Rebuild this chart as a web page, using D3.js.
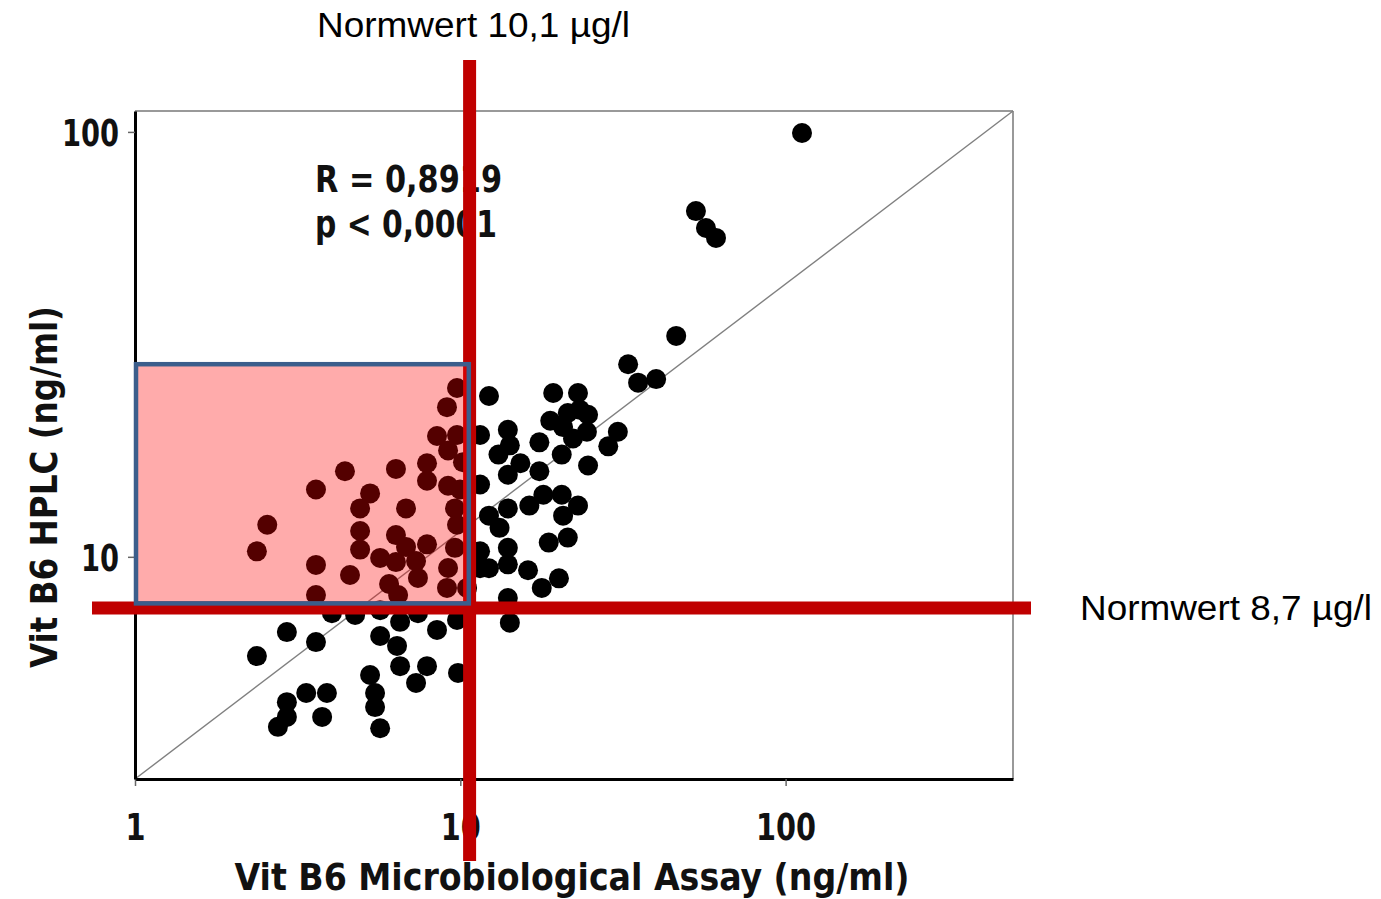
<!DOCTYPE html>
<html><head><meta charset="utf-8">
<script src="https://cdn.jsdelivr.net/npm/d3@7"></script>
<style>body{margin:0;background:#fff}</style>
</head><body>
<svg id="c" width="1381" height="899"></svg>
<script>
// ---- data ----
const xTicks = [1, 10, 100];
const yTicks = [10, 100];
const xDomain = [1, 500];
const yDomain = [3, 112];
const microAssay = [112.3,53.0,56.9,61.1,46.1,32.8,35.2,40.0,30.5,28.5,24.7,
  12.25,19.3,23.0,18.9,21.4,23.3,24.7,24.5,22.2,20.7,20.5,17.5,14.0,14.2,13.1,15.3,14.0,17.5,11.5,11.5,
  12.25,13.2,14.0,16.3,18.0,20.5,20.7,23.0,18.7,21.4,14.0,11.5,12.25,14.0,16.15,17.8,20.1,14.0,14.2,11.5,
  9.77,9.10,8.48,9.77,9.17,10.19,7.90,7.90,9.17,9.98,6.34,4.42,3.60,5.28,4.92,6.81,9.63,9.77,4.92,4.92,
  6.34,6.81,7.90,5.67,6.34,7.31,9.63,9.17,9.10,2.55,2.37,3.60,4.58,6.04,7.41,6.44,3.60,10.49,
  4.03,4.75,5.67,6.53,7.41,8.48,9.77,2.93,3.60,5.67,6.39,2.37,6.53,7.90,7.31,9.84,5.28,5.47,5.47,5.67,
  3.36,3.89,2.93,2.93,2.75,3.76];
const hplc = [99.4,65.1,59.4,56.3,33.1,28.4,25.7,26.2,19.7,18.2,16.4,
  23.9,24.3,24.3,20.9,21.8,22.2,21.6,19.7,19.0,20.2,17.4,18.6,19.9,18.3,17.4,16.6,15.6,15.9,19.35,14.8,
  12.5,11.7,13.0,13.2,14.0,14.0,12.5,13.2,10.8,11.1,10.5,10.3,9.4,9.6,9.3,8.45,8.9,8.0,7.0,9.4,
  24.96,22.5,19.25,19.35,17.8,16.7,16.6,15.1,14.7,14.4,16.1,15.9,14.4,14.1,13.0,13.0,13.0,11.9,11.5,10.4,
  11.25,10.55,10.7,9.94,9.72,9.77,10.5,9.41,8.45,11.9,10.3,9.57,9.06,8.63,8.92,8.13,8.13,8.45,
  7.37,7.30,7.49,7.03,7.37,6.73,7.10,6.65,6.30,6.51,6.17,5.84,5.53,5.53,5.05,5.33,5.27,4.78,4.43,3.95,
  4.78,4.78,4.55,4.20,3.98,4.20];
const normX = 10.68;        // vertical reference line position
const normY = 7.58;         // horizontal reference line position
const normLabels = ["Normwert 10,1 µg/l", "Normwert 8,7 µg/l"];
const statLabels = ["R = 0,8919", "p < 0,0001"];
const boxX = [1, 10.62];
const boxY = [7.77, 28.4];
const xTitle = "Vit B6 Microbiological Assay (ng/ml)";
const yTitle = "Vit B6 HPLC (ng/ml)";

// ---- drawing ----
const svg = d3.select("#c");
const x = d3.scaleLog().domain(xDomain).range([135, 1013]);
const y = d3.scaleLog().domain(yDomain).range([779, 111]);
const boldFont = "'Liberation Sans Narrow','DejaVu Sans Condensed','DejaVu Sans',sans-serif";
const regFont = "'Liberation Sans',Arial,sans-serif";

// top / right frame
svg.append("line").attr("x1", x(xDomain[0])).attr("x2", x(xDomain[1])).attr("y1", y(yDomain[1])).attr("y2", y(yDomain[1]))
  .attr("stroke", "#999").attr("stroke-width", 2);
svg.append("line").attr("x1", x(xDomain[1])).attr("x2", x(xDomain[1])).attr("y1", y(yDomain[0])).attr("y2", y(yDomain[1]))
  .attr("stroke", "#999").attr("stroke-width", 2);

// diagonal
svg.append("line").attr("x1", x(xDomain[0])).attr("y1", y(yDomain[0])).attr("x2", x(xDomain[1])).attr("y2", y(yDomain[1]))
  .attr("stroke", "#808080").attr("stroke-width", 1.4);

// axes
const gx = svg.append("g").attr("transform", `translate(0,${y(yDomain[0])})`)
  .call(d3.axisBottom(x).tickValues(xTicks).tickFormat(d3.format("d")).tickSize(7).tickSizeOuter(0));
gx.select(".domain").attr("stroke", "#000").attr("stroke-width", 3);
gx.selectAll(".tick line").attr("stroke", "#666").attr("stroke-width", 1.5);
gx.selectAll(".tick text").attr("y", 61).attr("dy", 0)
  .attr("font-family", boldFont).attr("font-weight", "bold").attr("font-size", 38).attr("fill", "#111")
  .attr("textLength", d => String(d).length * 20).attr("lengthAdjust", "spacingAndGlyphs");

const gy = svg.append("g").attr("transform", `translate(${x(xDomain[0])},0)`)
  .call(d3.axisLeft(y).tickValues(yTicks).tickFormat(d3.format("d")).tickSize(7).tickSizeOuter(0));
gy.select(".domain").attr("stroke", "#000").attr("stroke-width", 3);
gy.selectAll(".tick line").attr("stroke", "#666").attr("stroke-width", 1.5);
gy.selectAll(".tick text").attr("x", -16).attr("dy", "0.35em")
  .attr("font-family", boldFont).attr("font-weight", "bold").attr("font-size", 38).attr("fill", "#111")
  .attr("textLength", d => String(d).length * 19).attr("lengthAdjust", "spacingAndGlyphs");

// axis titles
svg.append("text").attr("x", 572).attr("y", 890).attr("text-anchor", "middle")
  .attr("font-family", boldFont).attr("font-weight", "bold").attr("font-size", 38).attr("fill", "#111")
  .attr("textLength", 675).attr("lengthAdjust", "spacingAndGlyphs").text(xTitle);
svg.append("text").attr("transform", "translate(57,487) rotate(-90)").attr("text-anchor", "middle")
  .attr("font-family", boldFont).attr("font-weight", "bold").attr("font-size", 38).attr("fill", "#111")
  .attr("textLength", 362).attr("lengthAdjust", "spacingAndGlyphs").text(yTitle);

// points
svg.append("g").selectAll("circle").data(microAssay.map((v, i) => [v, hplc[i]])).join("circle")
  .attr("cx", d => x(d[0])).attr("cy", d => y(d[1])).attr("r", 10).attr("fill", "#000");

// statistics text
svg.append("text").attr("x", 315).attr("y", 192)
  .attr("font-family", boldFont).attr("font-weight", "bold").attr("font-size", 38).attr("fill", "#111")
  .attr("textLength", 187).attr("lengthAdjust", "spacingAndGlyphs").text(statLabels[0]);
svg.append("text").attr("x", 315).attr("y", 237)
  .attr("font-family", boldFont).attr("font-weight", "bold").attr("font-size", 38).attr("fill", "#111")
  .attr("textLength", 182).attr("lengthAdjust", "spacingAndGlyphs").text(statLabels[1]);

// reference lines
svg.append("line").attr("x1", x(normX)).attr("x2", x(normX)).attr("y1", 60).attr("y2", 861)
  .attr("stroke", "#c00000").attr("stroke-width", 13);
svg.append("line").attr("x1", 92).attr("x2", 1031).attr("y1", y(normY)).attr("y2", y(normY))
  .attr("stroke", "#c00000").attr("stroke-width", 13);

// highlighted box
svg.append("rect")
  .attr("x", x(boxX[0]) + 1).attr("y", y(boxY[1]))
  .attr("width", x(boxX[1]) - x(boxX[0]) - 1).attr("height", y(boxY[0]) - y(boxY[1]))
  .attr("fill", "rgba(255,0,0,0.33)").attr("stroke", "#3b5e8c").attr("stroke-width", 4.5);

// reference labels
svg.append("text").attr("x", 317).attr("y", 37)
  .attr("font-family", regFont).attr("font-size", 35).attr("fill", "#000")
  .attr("textLength", 313).attr("lengthAdjust", "spacingAndGlyphs").text(normLabels[0]);
svg.append("text").attr("x", 1080).attr("y", 620)
  .attr("font-family", regFont).attr("font-size", 35).attr("fill", "#000")
  .attr("textLength", 292).attr("lengthAdjust", "spacingAndGlyphs").text(normLabels[1]);
</script>
</body></html>
